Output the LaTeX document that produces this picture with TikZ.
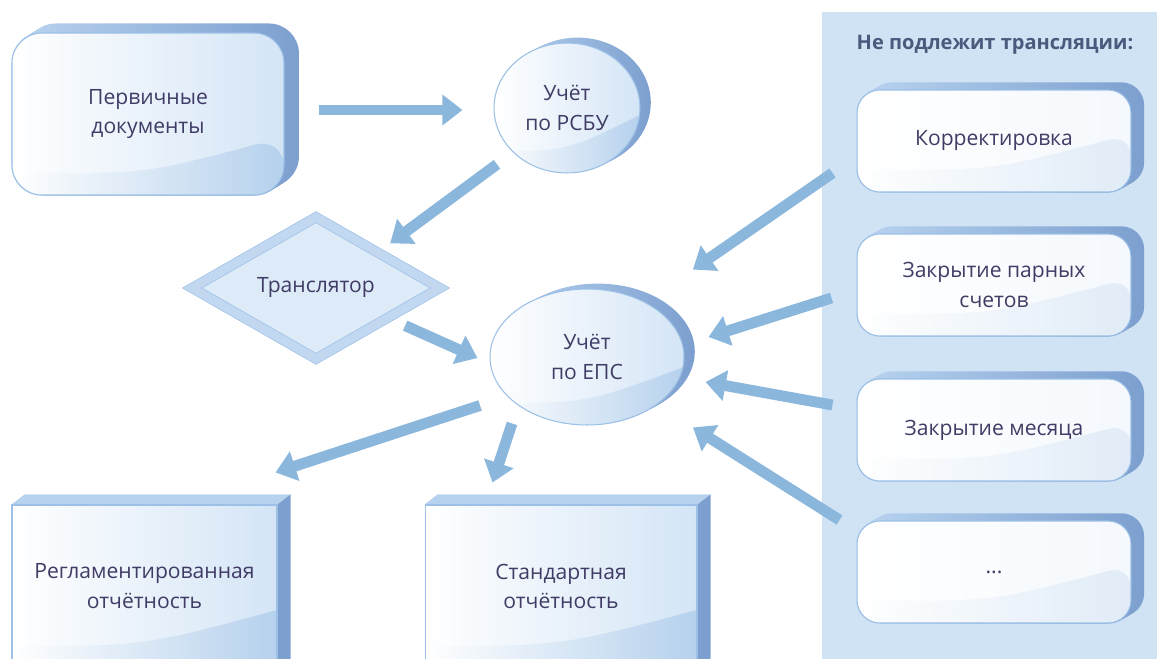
\documentclass[tikz,border=0pt]{standalone}
\usepackage{fontspec}
\setmainfont{Open Sans}
\usetikzlibrary{arrows.meta, shapes.geometric, calc, backgrounds}

\definecolor{ink}{HTML}{403C66}
\definecolor{headink}{HTML}{4B5A7C}
\definecolor{panelblue}{HTML}{CFE3F5}
\definecolor{arrowblue}{HTML}{8CB7DC}
\definecolor{rimblue}{HTML}{9CC0E6}
\definecolor{faceblue}{HTML}{D4E5F6}
\definecolor{glossblue}{HTML}{A9C9EA}
\definecolor{sidelight}{HTML}{B7D2EF}
\definecolor{sidedark}{HTML}{7C9FCF}
\definecolor{bevelblue}{HTML}{C2D8F0}

\tikzset{
        txt/.style={text=ink, align=center, font=\fontsize{12}{17}\selectfont},
        head/.style={text=headink, font=\bfseries\fontsize{11.4}{14}\selectfont},
        face/.style={txt, draw=rimblue, line width=0.6pt, left color=white, right color=#1},
        face/.default=faceblue,
        gloss/.style={path picture={
            \shade[left color=white, right color=#1, opacity=0.7]
              ($(path picture bounding box.south west)+(0,-22)$)
              .. controls ($(path picture bounding box.south)+(0,-22)$) ..
              ($(path picture bounding box.south east)+(0,-58)$)
              |- (path picture bounding box.south west) -- cycle;}},
        card/.style={face=faceblue!25, gloss=glossblue!45, rounded corners=13pt,
            minimum width=5.48cm, minimum height=2.04cm},
        docbox/.style={face, gloss=glossblue, rounded corners=17pt,
            minimum width=5.44cm, minimum height=3.24cm},
        plate/.style={face, gloss=glossblue, minimum width=#1, minimum height=3.26cm},
        oval/.style={ellipse, face, gloss=glossblue, inner sep=0pt},
        rhomb/.style={diamond, txt, draw=rimblue, double=bevelblue, double distance=5pt,
            fill=faceblue!80, minimum width=4.96cm, minimum height=2.84cm, inner sep=0pt},
        flow/.style={draw=arrowblue, line width=6.2pt, -{Triangle[length=11.5pt, width=17pt]}},
}

\begin{document}
\begin{tikzpicture}[x=0.02cm, y=-0.02cm]
        \useasboundingbox (0,0) rectangle (1157,659);
        % left part
        \node[docbox] (prim) at (148,114) {Первичные\\документы};
        \node[oval, minimum width=2.92cm, minimum height=2.6cm] (rsbu) at (567,108) {Учёт\\по РСБУ};
        \node[rhomb] (transl) at (316,288) {Транслятор};
        \node[oval, minimum width=3.88cm, minimum height=2.72cm] (eps) at (587,357) {Учёт\\по ЕПС};
        \node[plate=5.3cm] (regl) at (144.5,586.5) {Регламентированная\\отчётность};
        \node[plate=5.44cm] (std) at (561,586.5) {Стандартная\\отчётность};
        % right column
        \node[head] (title) at (995,45) {Не подлежит трансляции:};
        \node[card] (korr) at (994,141) {Корректировка};
        \node[card] (pair) at (994,285) {Закрытие парных\\счетов};
        \node[card] (month) at (994,430) {Закрытие месяца};
        \node[card] (dots) at (994,572) {...};
        % arrows
        \draw[flow] ($(prim.east)+(34,-4)$) -- ($(rsbu.west)+(-31,2)$);
        \draw[flow] ($(rsbu.south west)+(-18,10)$) -- ($(transl.north east)+(12,-9)$);
        \draw[flow] ($(transl.south east)+(27,2)$) -- ($(eps.west)+(-12,1)$);
        \draw[flow] ($(eps.south west)+(-38,0)$) -- ($(regl.north east)+(-2,-32)$);
        \draw[flow] ($(eps.south west)+(-6,18)$) -- ($(std.north west)+(68,-22)$);
        \draw[flow] ($(korr.west)+(-24,32)$) -- ($(eps.north east)+(37,-39)$);
        \draw[flow] ($(pair.west)+(-25,13)$) -- ($(eps.east)+(24,-20)$);
        \draw[flow] ($(month.west)+(-24,-25)$) -- ($(eps.east)+(21,25)$);
        \draw[flow] ($(dots.west)+(-17,-52)$) -- ($(eps.south east)+(37,22)$);
        % panel and depth, behind everything
        \begin{scope}[on background layer]
          \fill[panelblue] (822,12) rectangle (1157,659);
          \foreach \n/\r/\dx/\dy in {prim/17pt/16/-10, korr/13pt/14/-8, pair/13pt/14/-8,
                                     month/13pt/14/-8, dots/13pt/14/-8}
            \foreach \k in {0,0.1,...,1}
              \shade[left color=sidelight, right color=sidedark, rounded corners=\r]
                ($(\n.south west)+(\k*\dx,\k*\dy)$) rectangle ($(\n.north east)+(\k*\dx,\k*\dy)$);
          \foreach \n/\rx/\ry in {rsbu/1.46cm/1.3cm, eps/1.94cm/1.36cm}
            \foreach \k in {0,0.1,...,1}
              \shade[left color=sidelight, right color=sidedark]
                ($(\n)+(\k*12,-\k*6)$) ellipse [x radius=\rx, y radius=\ry];
          \foreach \n in {regl, std} {
            \fill[sidelight] (\n.north west) -- ++(13,-10) -- ($(\n.north east)+(13,-10)$)
              -- (\n.north east) -- cycle;
            \fill[sidedark] (\n.north east) -- ++(13,-10) -- ($(\n.south east)+(13,-10)$)
              -- (\n.south east) -- cycle;
          }
        \end{scope}
\end{tikzpicture}
\end{document}
